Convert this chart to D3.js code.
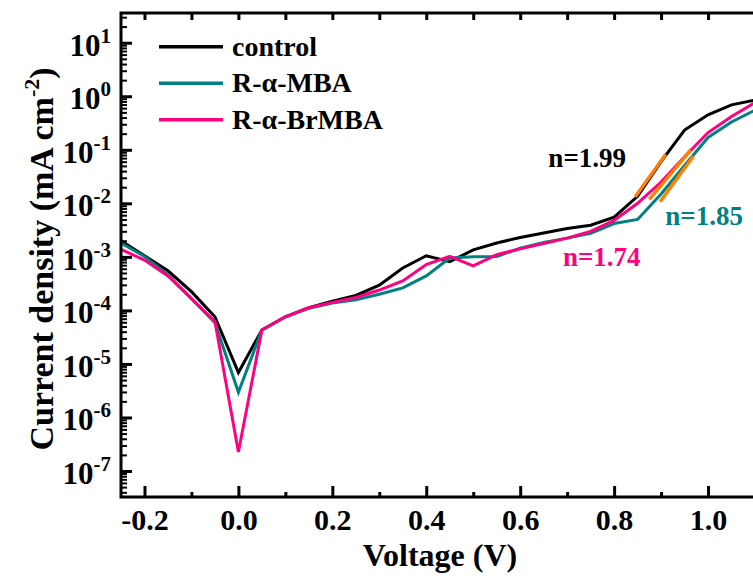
<!DOCTYPE html>
<html>
<head>
<meta charset="utf-8">
<script src="https://cdn.jsdelivr.net/npm/d3@7"></script>
<style>
  body { margin: 0; background: #fff; }
  svg { display: block; }
  text { font-family: "Liberation Serif", "Times New Roman", serif; font-weight: bold; }
</style>
</head>
<body>
<div id="jv-chart"></div>
<script>
// data (current density in mA cm^-2)
var voltage = [-0.25, -0.2, -0.15, -0.1, -0.05, 0, 0.05, 0.1, 0.15, 0.2, 0.25, 0.3, 0.35, 0.4,
               0.45, 0.5, 0.55, 0.6, 0.65, 0.7, 0.75, 0.8, 0.85, 0.9, 0.95, 1.0, 1.05, 1.1];

var control = [2.0e-3, 1.05e-3, 5.5e-4, 2.24e-4, 7.6e-5, 6.9e-6, 4.3e-5, 7.6e-5, 1.12e-4, 1.48e-4,
               1.9e-4, 2.95e-4, 6.2e-4, 1.05e-3, 8.1e-4, 1.35e-3, 1.82e-3, 2.3e-3, 2.8e-3, 3.4e-3,
               3.9e-3, 5.5e-3, 1.35e-2, 6.0e-2, 0.234, 0.45, 0.69, 0.85];

var mba = [1.82e-3, 1.02e-3, 4.6e-4, 1.66e-4, 5.9e-5, 2.95e-6, 4.3e-5, 7.6e-5, 1.1e-4, 1.38e-4,
           1.58e-4, 2.0e-4, 2.63e-4, 4.4e-4, 9.5e-4, 1.0e-3, 1.02e-3, 1.45e-3, 1.86e-3, 2.24e-3,
           2.75e-3, 4.2e-3, 5.0e-3, 1.5e-2, 5.1e-2, 0.17, 0.33, 0.55];

var brmba = [1.38e-3, 8.7e-4, 4.4e-4, 1.66e-4, 6.2e-5, 2.26e-7, 4.3e-5, 7.6e-5, 1.12e-4, 1.41e-4,
             1.74e-4, 2.4e-4, 3.55e-4, 7.2e-4, 1.02e-3, 6.8e-4, 1.1e-3, 1.41e-3, 1.78e-3, 2.24e-3,
             3.0e-3, 4.8e-3, 1.0e-2, 2.5e-2, 7.4e-2, 0.21, 0.42, 0.76];

var seriesNames = ["control", "R-\u03b1-MBA", "R-\u03b1-BrMBA"];
var seriesColors = ["#000000", "#008080", "#ff0080"];

// ideality-factor fits: [v0, j0, v1, j1]
var fitLabels = ["n=1.99", "n=1.85", "n=1.74"];
var fitSegments = [
  [0.845, 0.0133, 0.91, 0.0824],
  [0.898, 0.0107, 0.969, 0.0766],
  [0.875, 0.0119, 0.963, 0.099]
];
var fitLabelPos = [[0.66, 0.0476], [0.909, 0.0039], [0.691, 0.00068]];

var xMajor = [-0.2, 0, 0.2, 0.4, 0.6, 0.8, 1.0];
var xMinor = [-0.1, 0.1, 0.3, 0.5, 0.7, 0.9, 1.1];
var yMajor = [1e-7, 1e-6, 1e-5, 1e-4, 1e-3, 1e-2, 1e-1, 1e0, 1e1];

// layout
var W = 753, H = 579;
var mLeft = 121, mRight = 755, mTop = 13, mBottom = 497;

var x = d3.scaleLinear().domain([-0.25, 1.1]).range([mLeft, mRight]);
var y = d3.scaleLog().domain([3.27e-8, 35.9]).range([mBottom, mTop]);

var yMinor = [];
for (var e = -8; e <= 1; e++) {
  for (var k = 2; k <= 9; k++) {
    var v = k * Math.pow(10, e);
    if (v >= y.domain()[0] && v <= y.domain()[1]) yMinor.push(v);
  }
}

var svg = d3.select("#jv-chart").append("svg")
  .attr("width", W)
  .attr("height", H);

var line = d3.line()
  .x(function(d) { return x(d[0]); })
  .y(function(d) { return y(d[1]); });

var series = [control, mba, brmba].map(function(vals, i) {
  return { name: seriesNames[i], color: seriesColors[i], values: voltage.map(function(v, j) { return [v, vals[j]]; }) };
});

svg.append("clipPath").attr("id", "plot-clip")
  .append("rect").attr("x", mLeft).attr("y", mTop).attr("width", mRight - mLeft).attr("height", mBottom - mTop);

var plot = svg.append("g").attr("clip-path", "url(#plot-clip)");

plot.selectAll(".jv").data(series)
  .enter().append("path")
  .attr("class", "jv")
  .attr("d", function(d) { return line(d.values); })
  .attr("fill", "none")
  .attr("stroke", function(d) { return d.color; })
  .attr("stroke-width", 3);

plot.selectAll(".fit").data(fitSegments)
  .enter().append("line")
  .attr("class", "fit")
  .attr("x1", function(d) { return x(d[0]); })
  .attr("y1", function(d) { return y(d[1]); })
  .attr("x2", function(d) { return x(d[2]); })
  .attr("y2", function(d) { return y(d[3]); })
  .attr("stroke", "#ff8000")
  .attr("stroke-width", 3.5);

svg.selectAll(".fit-label").data(fitLabels)
  .enter().append("text")
  .attr("class", "fit-label")
  .attr("x", function(d, i) { return x(fitLabelPos[i][0]); })
  .attr("y", function(d, i) { return y(fitLabelPos[i][1]); })
  .attr("font-size", 27)
  .attr("fill", function(d, i) { return seriesColors[i]; })
  .text(function(d) { return d; });

// axes
function styleAxis(g) {
  g.select(".domain").remove();
  g.selectAll(".tick line").attr("stroke", "#000").attr("stroke-width", 3);
  g.selectAll("text").attr("font-size", 30).attr("fill", "#000")
    .attr("font-family", "Liberation Serif, Times New Roman, serif").attr("font-weight", "bold");
}

svg.append("g")
  .attr("transform", "translate(0," + mBottom + ")")
  .call(d3.axisBottom(x).tickValues(xMajor).tickSize(-11).tickPadding(12)
    .tickFormat(function(d) { return d.toFixed(1); }))
  .call(styleAxis);

svg.append("g")
  .attr("transform", "translate(0," + mBottom + ")")
  .call(d3.axisBottom(x).tickValues(xMinor).tickSize(-5).tickFormat(""))
  .call(styleAxis);

svg.append("g")
  .attr("transform", "translate(0," + mTop + ")")
  .call(d3.axisTop(x).tickValues(xMajor.concat(xMinor)).tickSize(-7).tickFormat(""))
  .call(styleAxis);

var yAxis = svg.append("g")
  .attr("transform", "translate(" + mLeft + ",0)")
  .call(d3.axisLeft(y).tickValues(yMajor).tickSize(-11).tickPadding(10).tickFormat(""))
  .call(styleAxis);

yAxis.selectAll(".tick text")
  .attr("font-size", 31)
  .attr("dy", "0.4em")
  .each(function(d) {
    var t = d3.select(this);
    t.append("tspan").text("10");
    t.append("tspan").attr("dy", -13).attr("font-size", 21).text(String(Math.round(Math.log10(d))));
  });

svg.append("g")
  .attr("transform", "translate(" + mLeft + ",0)")
  .call(d3.axisLeft(y).tickValues(yMinor).tickSize(-6).tickFormat(""))
  .call(styleAxis)
  .selectAll(".tick line").attr("stroke-width", 2);

// frame
svg.append("rect")
  .attr("x", mLeft).attr("y", mTop)
  .attr("width", mRight - mLeft).attr("height", mBottom - mTop)
  .attr("fill", "none")
  .attr("stroke", "#000")
  .attr("stroke-width", 3);

// axis titles
svg.append("text")
  .attr("x", 440).attr("y", 566)
  .attr("text-anchor", "middle")
  .attr("font-size", 32)
  .text("Voltage (V)");

var yTitle = svg.append("text")
  .attr("transform", "translate(53,259) rotate(-90)")
  .attr("text-anchor", "middle")
  .attr("font-size", 34);
yTitle.append("tspan").text("Current density (mA cm");
yTitle.append("tspan").attr("dy", -14).attr("font-size", 22).text("-2");
yTitle.append("tspan").attr("dy", 14).text(")");

// legend
var legend = svg.selectAll(".legend").data(series)
  .enter().append("g")
  .attr("class", "legend")
  .attr("transform", function(d, i) { return "translate(159," + (46.7 + i * 36.5) + ")"; });

legend.append("line")
  .attr("x1", 0).attr("x2", 64)
  .attr("stroke", function(d) { return d.color; })
  .attr("stroke-width", 3.5);

legend.append("text")
  .attr("x", 73).attr("y", 9)
  .attr("font-size", 28)
  .text(function(d) { return d.name; });
</script>
</body>
</html>
